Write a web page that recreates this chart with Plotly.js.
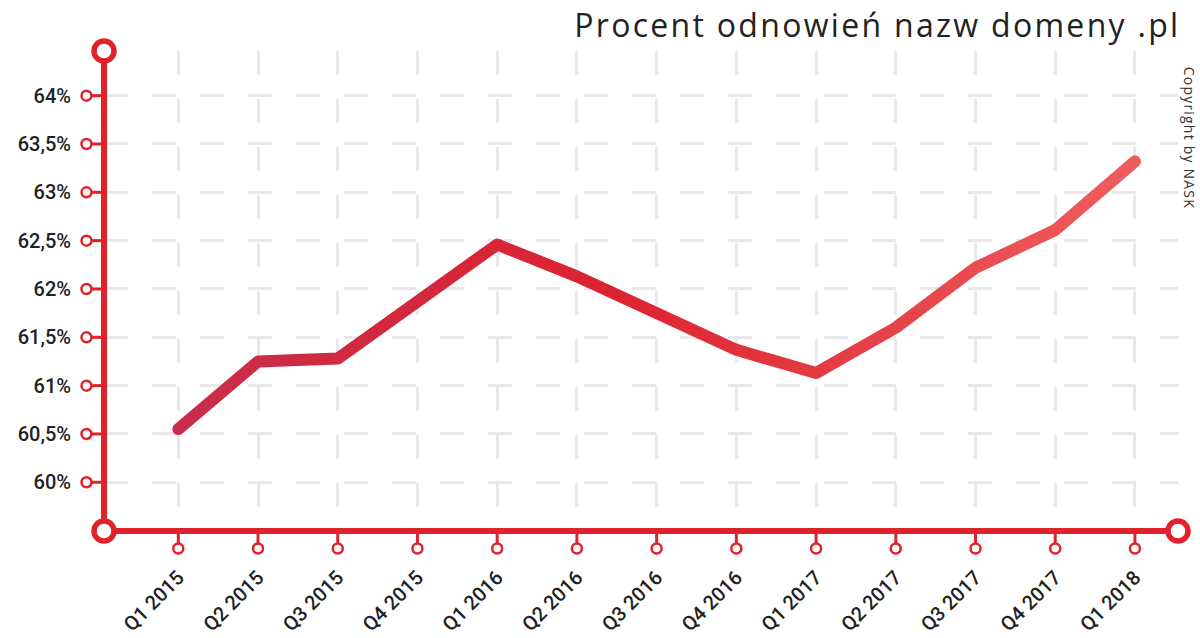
<!DOCTYPE html>
<html>
<head>
<meta charset="utf-8">
<script src="https://cdn.plot.ly/plotly-3.0.1.min.js"></script>
<style>
html,body{margin:0;padding:0;background:#fff;}
#chart{width:1200px;height:638px;}
</style>
</head>
<body>
<div id="chart"></div>
<script>
// ---- data ----
var quarters = ["Q1 2015","Q2 2015","Q3 2015","Q4 2015","Q1 2016","Q2 2016","Q3 2016","Q4 2016","Q1 2017","Q2 2017","Q3 2017","Q4 2017","Q1 2018"];
var renewalPct = [60.55, 61.25, 61.28, 61.87, 62.46, 62.13, 61.75, 61.37, 61.13, 61.60, 62.22, 62.61, 63.32];
var yTickVals = [60, 60.5, 61, 61.5, 62, 62.5, 63, 63.5, 64];
var yTickText = ["60%", "60,5%", "61%", "61,5%", "62%", "62,5%", "63%", "63,5%", "64%"];
var titleText = "Procent odnowień nazw domeny .pl";
var copyrightText = "Copyright by NASK";

var RED = "#e0232b";
var xIdx = quarters.map(function(q, i){ return i; });

var shapes = [];
// axis lines
shapes.push({type:"line", xref:"paper", yref:"paper", x0:0, x1:0, y0:0, y1:1, line:{color:RED, width:6}, layer:"above"});
shapes.push({type:"line", xref:"paper", yref:"paper", x0:0, x1:1, y0:0, y1:0, line:{color:RED, width:6}, layer:"above"});
// y tick stems + circles
yTickVals.forEach(function(v){
  shapes.push({type:"line", xref:"paper", yref:"y", xsizemode:"pixel", xanchor:0, x0:-12, x1:0, y0:v, y1:v, line:{color:RED, width:3}, layer:"above"});
  shapes.push({type:"circle", xref:"paper", yref:"y", xsizemode:"pixel", ysizemode:"pixel", xanchor:0, yanchor:v, x0:-22.5, x1:-12.5, y0:-5, y1:5, line:{color:RED, width:2.5}, fillcolor:"#fff", layer:"above"});
});
// x tick stems + circles
xIdx.forEach(function(i){
  shapes.push({type:"line", xref:"x", yref:"paper", ysizemode:"pixel", yanchor:0, x0:i, x1:i, y0:0, y1:-13, line:{color:RED, width:3}, layer:"above"});
  shapes.push({type:"circle", xref:"x", yref:"paper", xsizemode:"pixel", ysizemode:"pixel", xanchor:i, yanchor:0, x0:-5, x1:5, y0:-12.5, y1:-22.5, line:{color:RED, width:2.5}, fillcolor:"#fff", layer:"above"});
});
// big end circles
[[0,1],[0,0],[1,0]].forEach(function(p){
  shapes.push({type:"circle", xref:"paper", yref:"paper", xsizemode:"pixel", ysizemode:"pixel", xanchor:p[0], yanchor:p[1], x0:-10, x1:10, y0:-10, y1:10, line:{color:RED, width:5.5}, fillcolor:"#fff", layer:"above"});
});

var trace = {
  x: xIdx,
  y: renewalPct,
  type: "scatter",
  mode: "lines",
  line: {color: "#dc2330", width: 12},
  hoverinfo: "skip",
  cliponaxis: false
};

var layout = {
  width: 1200, height: 638,
  margin: {l:104, r:22, t:51, b:107},
  paper_bgcolor: "#fff", plot_bgcolor: "#fff",
  showlegend: false,
  xaxis: {
    range: [-0.932, 12.54],
    tickvals: xIdx, ticktext: quarters,
    tickangle: -45,
    ticks: "", showline: false, zeroline: false,
    showgrid: true, gridcolor: "#e8e8eb", gridwidth: 3, griddash: "24px,24px",
    tickfont: {family: "Roboto", size: 20, color: "#222", weight: 500},
    ticklabelstandoff: 30
  },
  yaxis: {
    range: [59.496, 64.462],
    tickvals: yTickVals, ticktext: yTickText,
    ticks: "", showline: false, zeroline: false,
    showgrid: true, gridcolor: "#e8e8eb", gridwidth: 3, griddash: "24px,24px",
    tickfont: {family: "Roboto", size: 20, color: "#222", weight: 500},
    ticklabelstandoff: 32
  },
  shapes: shapes,
  annotations: [
    {text: titleText, xref:"paper", yref:"paper", x:(1146-104)/1074, y:1, xanchor:"right", yanchor:"bottom", yshift:3, showarrow:false,
     font:{family:"Open Sans", size:32, color:"#222", weight:400}},
    {text: copyrightText, xref:"paper", yref:"paper", x:1, y:1, xshift:12, yshift:-24, xanchor:"center", yanchor:"top", textangle:90, showarrow:false,
     font:{family:"Open Sans", size:14, color:"#333"}}
  ]
};

Plotly.newPlot("chart", [trace], layout, {staticPlot:true, displayModeBar:false}).then(function(gd){
  var svg = gd.querySelector("svg.main-svg");
  var ns = "http://www.w3.org/2000/svg";
  var defs = svg.querySelector("defs") || svg.insertBefore(document.createElementNS(ns,"defs"), svg.firstChild);
  var grad = document.createElementNS(ns, "linearGradient");
  grad.setAttribute("id", "lineGrad");
  grad.setAttribute("x1","0"); grad.setAttribute("y1","0"); grad.setAttribute("x2","1"); grad.setAttribute("y2","0");
  [["0","#c92d4b"],["0.45","#dc2330"],["1","#ef5d5f"]].forEach(function(s){
    var st = document.createElementNS(ns,"stop");
    st.setAttribute("offset", s[0]); st.setAttribute("stop-color", s[1]);
    grad.appendChild(st);
  });
  defs.appendChild(grad);
  gd.querySelectorAll("path.js-line").forEach(function(p){
    p.style.stroke = "url(#lineGrad)";
    p.style.strokeLinejoin = "round";
    p.style.strokeLinecap = "round";
  });
  var annTexts = gd.querySelectorAll("text.annotation-text");
  if (annTexts[0]) annTexts[0].style.letterSpacing = "2.3px";
  if (annTexts[1]) annTexts[1].style.letterSpacing = "1.2px";
});
</script>
</body>
</html>
